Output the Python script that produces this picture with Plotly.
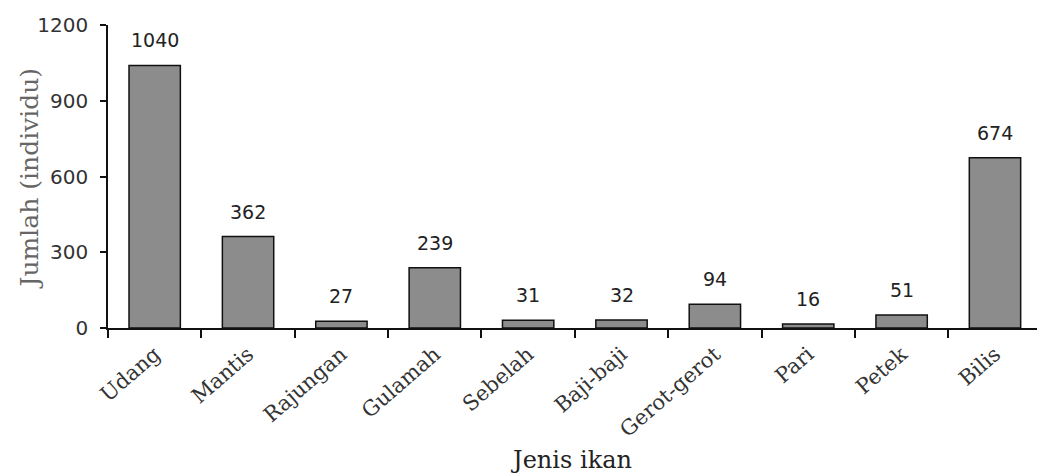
import plotly.graph_objects as go

# Hasil tangkapan per jenis
jenis = ["Udang", "Mantis", "Rajungan", "Gulamah", "Sebelah",
         "Baji-baji", "Gerot-gerot", "Pari", "Petek", "Bilis"]
jumlah = [1040, 362, 27, 239, 31, 32, 94, 16, 51, 674]
y_ticks = [0, 300, 600, 900, 1200]

fig = go.Figure()
fig.add_trace(go.Bar(
    x=jenis, y=jumlah,
    marker=dict(color="#8c8c8c", line=dict(color="#111111", width=1.5)),
    width=0.55,
    hoverinfo="skip",
))

for j, v in zip(jenis, jumlah):
    fig.add_annotation(
        x=j, y=v, text=str(v), showarrow=False,
        yanchor="bottom", yshift=12,
        font=dict(family="DejaVu Sans", size=19, color="#222222"),
    )

# Vertical axis title, placed close to the tick labels
fig.add_annotation(
    text="Jumlah (individu)", textangle=-90, showarrow=False,
    xref="paper", yref="paper", x=0, y=0.5,
    xanchor="center", yanchor="middle", xshift=-79, yshift=-2,
    font=dict(family="DejaVu Serif", size=25, color="#666666"),
)

fig.update_layout(
    width=1037, height=474,
    margin=dict(l=108, r=0, t=25, b=146),
    plot_bgcolor="white", paper_bgcolor="white",
    showlegend=False,
    xaxis=dict(
        range=[-0.5, 9.45],
        showline=True, linecolor="#111111", linewidth=1.5,
        ticks="outside", tickson="boundaries", ticklen=8,
        tickcolor="#111111", tickwidth=1.5,
        tickangle=-41, ticklabelstandoff=4,
        tickfont=dict(family="DejaVu Serif", size=21, color="#333333"),
        title=dict(text="Jenis ikan", standoff=16,
                   font=dict(family="DejaVu Serif", size=24, color="#222222")),
        showgrid=False,
    ),
    yaxis=dict(
        range=[0, 1200], tickvals=y_ticks,
        showline=True, linecolor="#111111", linewidth=1.5,
        ticks="outside", ticklen=6, tickcolor="#111111", tickwidth=1.5,
        ticklabelstandoff=8,
        tickfont=dict(family="DejaVu Sans", size=20, color="#333333"),
        showgrid=False, zeroline=False,
    ),
)

fig.write_html("out.html")
